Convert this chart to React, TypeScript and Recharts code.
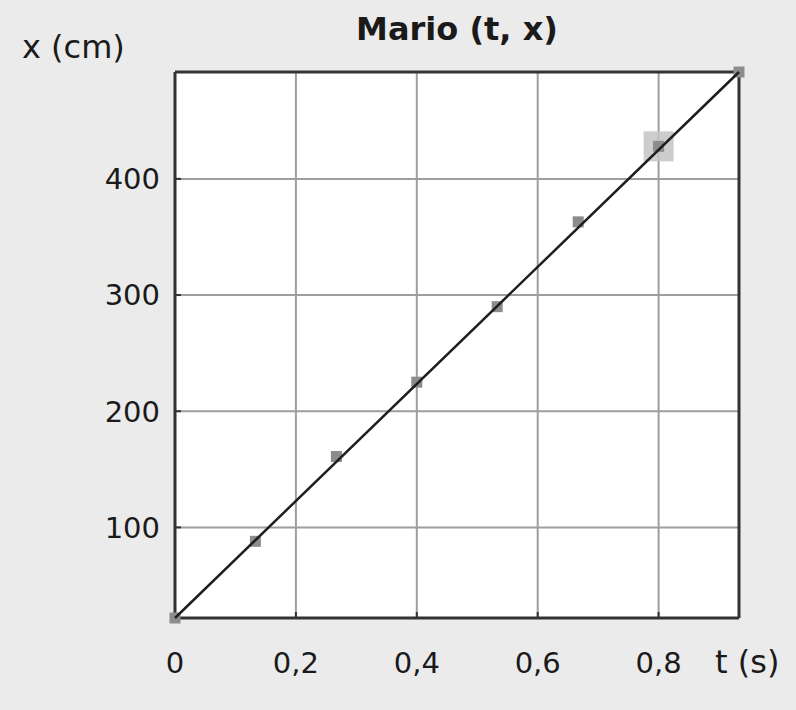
import { ScatterChart, Scatter, XAxis, YAxis, CartesianGrid } from 'recharts';

// measured positions of Mario, t in seconds, x in cm
const times = [0, 0.133, 0.267, 0.4, 0.533, 0.667, 0.8, 0.933];
const positions = [22, 88, 161, 225, 290, 363, 428, 492];

// fitted straight line, end points
const fitTimes = [0, 0.933];
const fitPositions = [22, 492];

// the selected point
const selectedIndex = 6;

const tTicks = [0, 0.2, 0.4, 0.6, 0.8];
const xTicks = [100, 200, 300, 400];

const points = times.map((t, i) => ({ t, x: positions[i] }));
const fit = fitTimes.map((t, i) => ({ t, x: fitPositions[i] }));
const selected = [points[selectedIndex]];

const FONT = '"DejaVu Sans", Verdana, sans-serif';
const TEXT = '#1a1a1a';
const BORDER = { stroke: '#333', strokeWidth: 3 };
const TICKLINE = { stroke: '#333', strokeWidth: 2 };

const comma = (v: number) => String(v).replace('.', ',');

const Square = (props: any) => {
  const { cx, cy } = props;
  return <rect x={cx - 5.5} y={cy - 5.5} width={11} height={11} fill="#8c8c8c" />;
};

const BigSquare = (props: any) => {
  const { cx, cy } = props;
  return <rect x={cx - 15} y={cy - 15} width={30} height={30} fill="#c4c4c4" opacity={0.85} />;
};

const NoDot = () => <g />;
const NoTick = () => <g />;

export default function App() {
  const tickStyle = { fontSize: 29, fill: TEXT, fontFamily: FONT };
  return (
    <div
      style={{
        position: 'absolute',
        left: 0,
        top: 0,
        width: 796,
        height: 710,
        background: '#ebebeb',
        fontFamily: FONT,
        color: TEXT,
      }}
    >
      <div
        style={{
          position: 'absolute',
          left: 175,
          width: 564,
          top: 13,
          textAlign: 'center',
          fontSize: 32,
          fontWeight: 'bold',
          lineHeight: 1,
        }}
      >
        Mario (t, x)
      </div>
      <div style={{ position: 'absolute', left: 22, top: 31, fontSize: 32, lineHeight: 1 }}>x (cm)</div>
      <div style={{ position: 'absolute', left: 715, top: 646, fontSize: 32, lineHeight: 1 }}>t (s)</div>

      <ScatterChart width={796} height={710} margin={{ top: 71, right: 56, bottom: 52, left: 0 }}>
        <CartesianGrid fill="#ffffff" stroke="#9e9e9e" strokeWidth={2} />
        <XAxis
          type="number"
          dataKey="t"
          domain={[0, 0.933]}
          ticks={tTicks}
          height={40}
          tickSize={-6}
          tickMargin={40}
          tickFormatter={comma}
          tick={tickStyle}
          axisLine={BORDER}
          tickLine={TICKLINE}
        />
        <XAxis
          xAxisId="top"
          orientation="top"
          type="number"
          dataKey="t"
          domain={[0, 0.933]}
          ticks={tTicks}
          height={1}
          tickSize={-6}
          tick={NoTick}
          axisLine={BORDER}
          tickLine={TICKLINE}
        />
        <YAxis
          type="number"
          dataKey="x"
          domain={[22, 492]}
          ticks={xTicks}
          width={175}
          tickSize={-6}
          tickMargin={21}
          tick={tickStyle}
          axisLine={BORDER}
          tickLine={TICKLINE}
        />
        <YAxis
          yAxisId="right"
          orientation="right"
          type="number"
          dataKey="x"
          domain={[22, 492]}
          ticks={xTicks}
          width={1}
          tickSize={-6}
          tick={NoTick}
          axisLine={BORDER}
          tickLine={TICKLINE}
        />
        <Scatter data={selected} shape={BigSquare} isAnimationActive={false} />
        <Scatter data={points} shape={Square} isAnimationActive={false} />
        <Scatter
          data={fit}
          shape={NoDot}
          line={{ stroke: '#1e1e1e', strokeWidth: 2.5 }}
          isAnimationActive={false}
        />
      </ScatterChart>
    </div>
  );
}
